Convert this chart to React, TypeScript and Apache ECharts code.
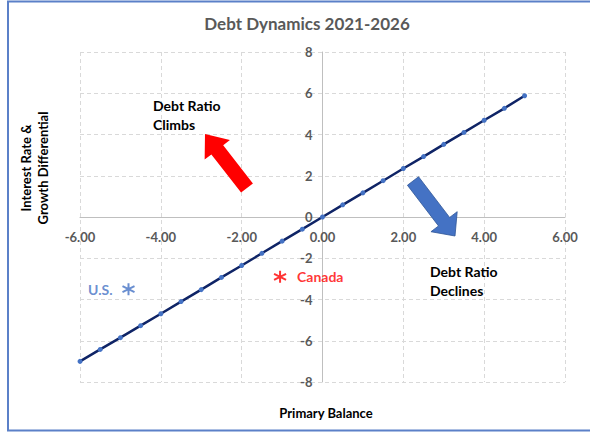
import React, { useEffect, useRef } from "react";
import * as echarts from "echarts";

const primaryBalance = [-6, -5.5, -5, -4.5, -4, -3.5, -3, -2.5, -2, -1.5, -1, -0.5, 0, 0.5, 1, 1.5, 2, 2.5, 3, 3.5, 4, 4.5, 5];
const rateGrowthDiff = [-7.0, -6.42, -5.85, -5.27, -4.69, -4.1, -3.52, -2.93, -2.35, -1.76, -1.17, -0.59, 0, 0.59, 1.17, 1.76, 2.35, 2.93, 3.52, 4.1, 4.69, 5.27, 5.88];
const usPoint = [-4.8, -3.5];
const canadaPoint = [-1.05, -2.9];
const xTicks = { min: -6, max: 6, interval: 2 };
const yTicks = { min: -8, max: 8, interval: 2 };

const FONT = "Lato";
const ASTERISK = "path://M5,0L5,10M0.67,2.5L9.33,7.5M0.67,7.5L9.33,2.5";

function arrowPoints(t: number[], p: number[], shaftHalf: number, headHalf: number, headLen: number) {
  const dx = p[0] - t[0];
  const dy = p[1] - t[1];
  const len = Math.sqrt(dx * dx + dy * dy);
  const d = [dx / len, dy / len];
  const n = [-d[1], d[0]];
  const b = [p[0] - d[0] * headLen, p[1] - d[1] * headLen];
  const pt = (base: number[], k: number) => [base[0] + n[0] * k, base[1] + n[1] * k];
  return [pt(t, shaftHalf), pt(b, shaftHalf), pt(b, headHalf), p, pt(b, -headHalf), pt(b, -shaftHalf), pt(t, -shaftHalf)];
}

export default function App() {
  const ref = useRef<HTMLDivElement>(null);
  useEffect(() => {
    if (!ref.current) return;
    const chart = echarts.init(ref.current, undefined, { renderer: "svg" });
    const lineData = primaryBalance.map((x, i) => [x, rateGrowthDiff[i]]);
    const labelColor = "#595959";
    const gridLeft = 80;
    const gridTop = 52;
    const gridBottom = 50;
    chart.setOption({
      animation: false,
      backgroundColor: "#ffffff",
      title: {
        text: "Debt Dynamics 2021-2026",
        left: 302,
        textAlign: "center",
        top: 10,
        textStyle: { fontFamily: FONT, fontWeight: "bold", fontSize: 17, color: labelColor },
      },
      grid: { left: gridLeft, right: 25, top: gridTop, bottom: gridBottom },
      xAxis: {
        type: "value",
        min: xTicks.min,
        max: xTicks.max,
        interval: xTicks.interval,
        axisLine: { show: true, onZero: false, lineStyle: { color: "#bfbfbf", width: 1 } },
        axisTick: { show: false },
        axisLabel: {
          formatter: (v: number) => v.toFixed(2),
          color: labelColor,
          fontFamily: FONT,
          fontWeight: "bold",
          fontSize: 13,
          margin: 13,
        },
        splitLine: { show: true, lineStyle: { color: "#d9d9d9", type: [4, 3], width: 1 } },
      },
      yAxis: {
        type: "value",
        min: yTicks.min,
        max: yTicks.max,
        interval: yTicks.interval,
        axisLine: { show: true, onZero: false, lineStyle: { color: "#bfbfbf", width: 1 } },
        axisTick: { show: false },
        axisLabel: {
          color: labelColor,
          fontFamily: FONT,
          fontWeight: "bold",
          fontSize: 13,
          margin: 10,
        },
        splitLine: { show: true, lineStyle: { color: "#d9d9d9", type: [4, 3], width: 1 } },
      },
      series: [
        {
          type: "line",
          data: lineData,
          symbol: "circle",
          symbolSize: 5,
          showSymbol: true,
          lineStyle: { color: "#0f2466", width: 2.5 },
          itemStyle: { color: "#4472C4" },
          z: 3,
        },
        {
          type: "scatter",
          data: [usPoint],
          symbol: ASTERISK,
          symbolSize: 12,
          itemStyle: { color: "#4472C4", borderColor: "#4472C4", borderWidth: 2 },
          label: {
            show: true,
            position: "left",
            distance: 9,
            formatter: "U.S.",
            color: "#4472C4",
            fontFamily: FONT,
            fontWeight: "bold",
            fontSize: 14,
          },
          z: 4,
        },
        {
          type: "scatter",
          data: [canadaPoint],
          symbol: ASTERISK,
          symbolSize: 12,
          itemStyle: { color: "#ff0000", borderColor: "#ff0000", borderWidth: 2 },
          label: {
            show: true,
            position: "right",
            distance: 10,
            formatter: "Canada",
            color: "#ff0000",
            fontFamily: FONT,
            fontWeight: "bold",
            fontSize: 14,
          },
          z: 4,
        },
      ],
      graphic: [
        {
          type: "rect",
          shape: { x: 8, y: 1.5, width: 600, height: 429 },
          style: { fill: "none", stroke: "#5b80c8", lineWidth: 2 },
          silent: true,
          z: 10,
        },
        {
          type: "polygon",
          shape: { points: arrowPoints([247, 188], [205, 134], 7.5, 16, 20) },
          style: { fill: "#ff0000" },
          z: 5,
        },
        {
          type: "polygon",
          shape: { points: arrowPoints([413, 181], [455, 236], 7, 16.5, 18) },
          style: { fill: "#4472C4", stroke: "#2f5597", lineWidth: 0.8 },
          z: 5,
        },
        {
          type: "text",
          x: 153,
          y: 96,
          style: {
            text: "Debt Ratio\nClimbs",
            fill: "#000000",
            font: `bold 14px ${FONT}`,
            lineHeight: 19,
          },
          z: 6,
        },
        {
          type: "text",
          x: 430,
          y: 262,
          style: {
            text: "Debt Ratio\nDeclines",
            fill: "#000000",
            font: `bold 14px ${FONT}`,
            lineHeight: 19,
          },
          z: 6,
        },
        {
          type: "text",
          x: 326,
          y: 413,
          style: {
            text: "Primary Balance",
            fill: "#000000",
            font: `bold 13px ${FONT}`,
            align: "center",
            verticalAlign: "middle",
          },
          z: 6,
        },
        {
          type: "text",
          x: 34,
          y: 168,
          rotation: Math.PI / 2,
          style: {
            text: "Interest Rate &\nGrowth Differential",
            fill: "#000000",
            font: `bold 13px ${FONT}`,
            align: "center",
            verticalAlign: "middle",
            lineHeight: 17,
          },
          z: 6,
        },
      ],
    });
    // place the axes so they cross at the origin
    const origin = chart.convertToPixel({ gridIndex: 0 }, [0, 0]) as number[];
    const bottomY = chart.getHeight() - gridBottom;
    chart.setOption({
      xAxis: { offset: origin[1] - bottomY },
      yAxis: { offset: gridLeft - origin[0] },
    });
    return () => chart.dispose();
  }, []);
  return (
    <div
      ref={ref}
      style={{ position: "absolute", left: 0, top: 0, width: 590, height: 432, background: "#fff" }}
    />
  );
}
